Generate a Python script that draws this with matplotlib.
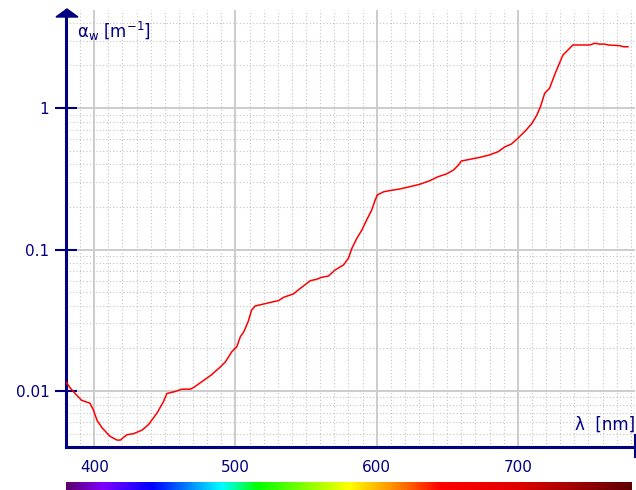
import numpy as np
import matplotlib
matplotlib.use("Agg")
import matplotlib.pyplot as plt
from matplotlib.colors import LinearSegmentedColormap
from matplotlib.patches import Polygon
from matplotlib.lines import Line2D
from matplotlib.ticker import FixedLocator, MultipleLocator, LogLocator, NullFormatter

# absorption coefficient of pure water
wavelength = [380, 383, 386.5, 391, 397, 399.5, 402, 405.5, 411, 416,
              418.5, 423, 428, 434, 438.5, 444.5, 449, 451.5, 457, 462,
              468, 470.5, 476, 483, 489, 493, 497.5, 501, 503.5, 506,
              509, 511.5, 514, 520, 527, 530.5, 534, 541, 546, 553,
              557.5, 561, 566, 570.5, 576.5, 580, 582.5, 586, 589.5, 593,
              596.5, 599, 600.5, 605, 609.5, 616.5, 623.5, 630.5, 637.5, 643.5,
              649.5, 654.5, 658, 660, 666, 673, 680, 686, 691, 695.5,
              700, 705.5, 710, 713.5, 716, 719, 722.5, 726.5, 730, 732,
              735.5, 739, 751, 754.5, 758, 761.5, 764, 772, 775, 778]
a_w = [0.0116, 0.0105, 0.0096, 0.0086, 0.0082, 0.0073, 0.0062, 0.0055, 0.0048, 0.0045,
       0.0045, 0.0049, 0.0050, 0.0053, 0.0058, 0.0070, 0.0084, 0.0096, 0.0099, 0.0103,
       0.0103, 0.0106, 0.0116, 0.0130, 0.0147, 0.0161, 0.0190, 0.0206, 0.0242, 0.0263,
       0.0309, 0.0374, 0.0399, 0.0412, 0.0428, 0.0435, 0.0459, 0.0485, 0.0532, 0.0602,
       0.0616, 0.0636, 0.0650, 0.0716, 0.0777, 0.0866, 0.102, 0.120, 0.137, 0.162,
       0.190, 0.224, 0.243, 0.256, 0.261, 0.268, 0.278, 0.289, 0.306, 0.327,
       0.342, 0.365, 0.396, 0.422, 0.434, 0.448, 0.466, 0.491, 0.533, 0.557,
       0.611, 0.692, 0.779, 0.892, 1.02, 1.27, 1.38, 1.76, 2.13, 2.37,
       2.57, 2.79, 2.79, 2.87, 2.83, 2.83, 2.79, 2.76, 2.71, 2.71]

y_ticks = [0.01, 0.1, 1]
y_ticklabels = ["0.01", "0.1", "1"]
x_ticks = [400, 500, 600, 700]
x_ticklabels = ["400", "500", "600", "700"]

# colour strip under the axis
bar_nm = [380, 405, 440, 490, 515, 580, 615, 645, 700, 780]
bar_col = ["#5c006e", "#8000ff", "#0000ff", "#00ffff", "#00ff00",
           "#ffff00", "#ff8000", "#ff0000", "#e00000", "#600000"]

NAVY = "#000080"
GRID = "#cccccc"
W, H = 636, 490

plt.rcParams["font.family"] = ["DejaVu Sans"]

fig = plt.figure(figsize=(W / 100, H / 100), dpi=100)
ax = fig.add_axes([66 / W, 43 / H, 569 / W, 437 / H])

ax.plot(wavelength, a_w, color="#ff0000", lw=1.1, zorder=3)

ax.set_yscale("log")
ax.set_xlim(380, 783)
ax.set_ylim(0.00402, 4.93)

ax.yaxis.set_major_locator(FixedLocator(y_ticks))
ax.set_yticklabels(y_ticklabels)
ax.yaxis.set_minor_locator(LogLocator(base=10, subs=np.arange(2, 10)))
ax.yaxis.set_minor_formatter(NullFormatter())
ax.xaxis.set_major_locator(FixedLocator(x_ticks))
ax.set_xticklabels(x_ticklabels)
ax.xaxis.set_minor_locator(MultipleLocator(10))

ax.grid(which="major", color=GRID, lw=1.4, ls="-", zorder=0)
ax.grid(which="minor", color="#c4c4c4", lw=0.8, ls=(0, (1, 2)), zorder=0)
ax.set_axisbelow(True)

for s in ("top", "right"):
    ax.spines[s].set_visible(False)
for s in ("left", "bottom"):
    ax.spines[s].set_color(NAVY)
    ax.spines[s].set_linewidth(2.2)

ax.tick_params(axis="y", which="major", direction="inout", length=16, width=1.5,
               color=NAVY, labelcolor=NAVY, labelsize=11, pad=4)
ax.tick_params(axis="x", which="major", length=0, labelcolor=NAVY, labelsize=11, pad=9)
ax.tick_params(which="minor", length=0)

# arrow head on y axis, end mark on x axis
fig.patches.append(Polygon([[67 / W, 481 / H], [56 / W, 473 / H], [78 / W, 473 / H]],
                           closed=True, color=NAVY, transform=fig.transFigure))
fig.lines.append(Line2D([635 / W, 635 / W], [33 / H, 55 / H], color=NAVY, lw=1.5,
                        transform=fig.transFigure))

fig.text(77 / W, 1 - 31 / H, "α$_\\mathrm{w}$ [m$^{-1}$]", color=NAVY, fontsize=12,
         ha="left", va="center")
fig.text(635 / W, 1 - 425 / H, "λ  [nm]", color=NAVY, fontsize=12,
         ha="right", va="center")

# spectrum strip
cax = fig.add_axes([66 / W, 0, 566 / W, 8 / H])
stops = [(n - bar_nm[0]) / (bar_nm[-1] - bar_nm[0]) for n in bar_nm]
cmap = LinearSegmentedColormap.from_list("spec", list(zip(stops, bar_col)))
cax.imshow(np.linspace(0, 1, 400)[None, :], aspect="auto", cmap=cmap,
           extent=(bar_nm[0], bar_nm[-1], 0, 1))
cax.set_axis_off()

fig.savefig("out.png", dpi=100)
